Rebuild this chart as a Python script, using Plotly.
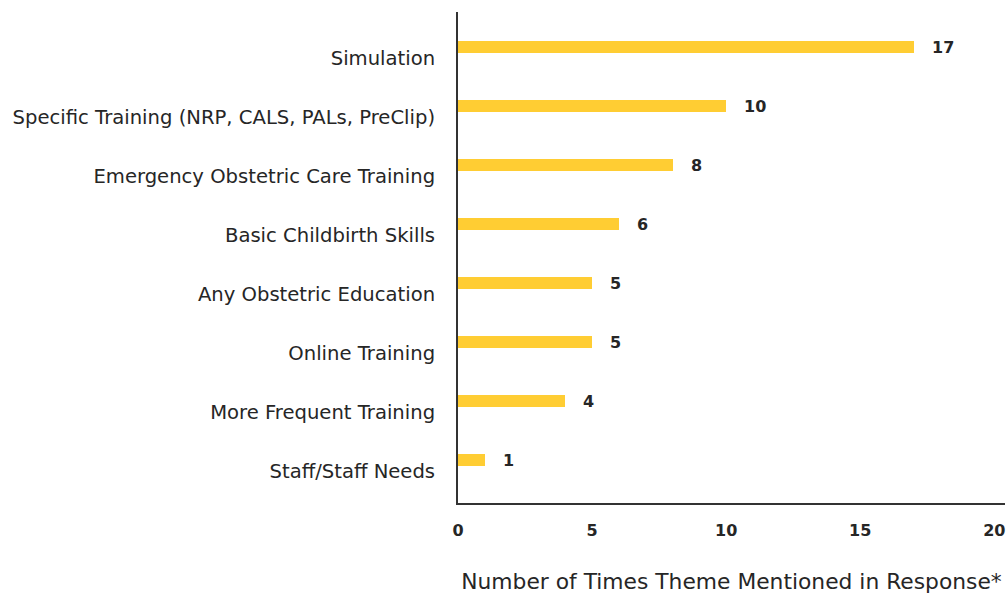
import plotly.graph_objects as go

categories = [
    "Simulation",
    "Specific Training (NRP, CALS, PALs, PreClip)",
    "Emergency Obstetric Care Training",
    "Basic Childbirth Skills",
    "Any Obstetric Education",
    "Online Training",
    "More Frequent Training",
    "Staff/Staff Needs",
]
values = [17, 10, 8, 6, 5, 5, 4, 1]
x_ticks = [0, 5, 10, 15, 20]
x_title = "Number of Times Theme Mentioned in Response*"

bar_color = "#FFCD33"
text_color = "#262626"
font_family = "DejaVu Sans, sans-serif"

positions = list(range(len(categories)))
bar_offset = -0.288
bar_width = 0.203

fig = go.Figure()
fig.add_trace(go.Bar(
    x=values,
    y=positions,
    orientation="h",
    marker=dict(color=bar_color, line=dict(width=0)),
    width=bar_width,
    offset=bar_offset,
    hoverinfo="x+y",
))

for p, v in zip(positions, values):
    fig.add_annotation(
        x=v, y=p + bar_offset + bar_width / 2,
        text=f"<b>{v}</b>", showarrow=False,
        xanchor="left", yanchor="middle", xshift=16,
        font=dict(family=font_family, size=16, color=text_color),
    )

fig.update_layout(
    width=1008, height=594,
    margin=dict(l=458, r=3, t=12, b=91),
    paper_bgcolor="white", plot_bgcolor="white",
    showlegend=False,
    bargap=0,
    xaxis=dict(
        range=[0, 20.4],
        automargin=False,
        tickvals=x_ticks,
        ticktext=[f"<b>{t}</b>" for t in x_ticks],
        showgrid=False, zeroline=False,
        showline=True, linecolor="#333333", linewidth=2,
        ticks="", ticklabelstandoff=12,
        tickfont=dict(family=font_family, size=16, color=text_color),
        title=dict(text=x_title, standoff=37,
                   font=dict(family=font_family, size=21.8, color=text_color)),
    ),
    yaxis=dict(
        range=[7.54, -0.78],
        automargin=False,
        tickvals=positions,
        ticktext=categories,
        showgrid=False, zeroline=False,
        showline=True, linecolor="#333333", linewidth=2,
        ticks="", ticklabelstandoff=17,
        tickfont=dict(family=font_family, size=19.6, color=text_color),
    ),
)

fig.write_html(
    "out.html",
    config={"displayModeBar": False},
    post_script="document.body.style.margin='0';document.body.style.overflow='hidden';",
)
